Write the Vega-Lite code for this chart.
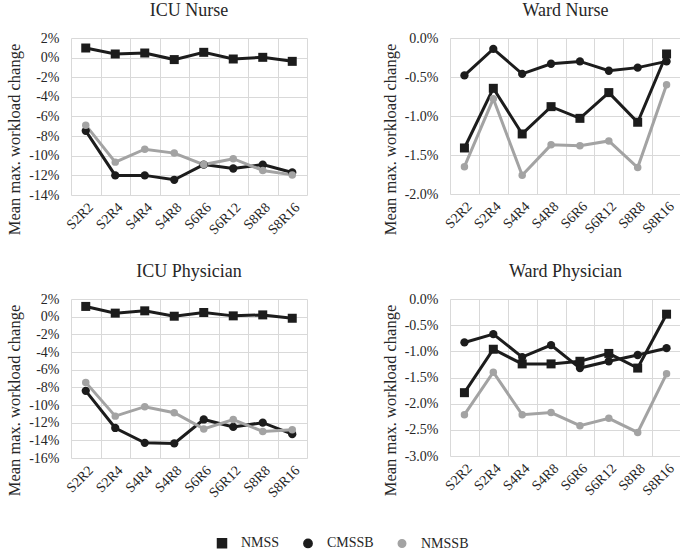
{
  "$schema": "https://vega.github.io/schema/vega-lite/v6.json",
  "padding": {"left": 6, "top": 2, "right": 2, "bottom": 2},
  "background": "white",
  "datasets": {
    "d": [
      {"panel": "ICU Nurse", "scenario": "S2R2", "series": "NMSS", "value": 0.0098},
      {"panel": "ICU Nurse", "scenario": "S2R4", "series": "NMSS", "value": 0.0037},
      {"panel": "ICU Nurse", "scenario": "S4R4", "series": "NMSS", "value": 0.0047},
      {"panel": "ICU Nurse", "scenario": "S4R8", "series": "NMSS", "value": -0.002},
      {"panel": "ICU Nurse", "scenario": "S6R6", "series": "NMSS", "value": 0.0054},
      {"panel": "ICU Nurse", "scenario": "S6R12", "series": "NMSS", "value": -0.0014},
      {"panel": "ICU Nurse", "scenario": "S8R8", "series": "NMSS", "value": 0.0003},
      {"panel": "ICU Nurse", "scenario": "S8R16", "series": "NMSS", "value": -0.0038},
      {"panel": "ICU Nurse", "scenario": "S2R2", "series": "CMSSB", "value": -0.0746},
      {"panel": "ICU Nurse", "scenario": "S2R4", "series": "CMSSB", "value": -0.12},
      {"panel": "ICU Nurse", "scenario": "S4R4", "series": "CMSSB", "value": -0.12},
      {"panel": "ICU Nurse", "scenario": "S4R8", "series": "CMSSB", "value": -0.1245},
      {"panel": "ICU Nurse", "scenario": "S6R6", "series": "CMSSB", "value": -0.109},
      {"panel": "ICU Nurse", "scenario": "S6R12", "series": "CMSSB", "value": -0.113},
      {"panel": "ICU Nurse", "scenario": "S8R8", "series": "CMSSB", "value": -0.109},
      {"panel": "ICU Nurse", "scenario": "S8R16", "series": "CMSSB", "value": -0.117},
      {"panel": "ICU Nurse", "scenario": "S2R2", "series": "NMSSB", "value": -0.0688},
      {"panel": "ICU Nurse", "scenario": "S2R4", "series": "NMSSB", "value": -0.1065},
      {"panel": "ICU Nurse", "scenario": "S4R4", "series": "NMSSB", "value": -0.0933},
      {"panel": "ICU Nurse", "scenario": "S4R8", "series": "NMSSB", "value": -0.0973},
      {"panel": "ICU Nurse", "scenario": "S6R6", "series": "NMSSB", "value": -0.109},
      {"panel": "ICU Nurse", "scenario": "S6R12", "series": "NMSSB", "value": -0.103},
      {"panel": "ICU Nurse", "scenario": "S8R8", "series": "NMSSB", "value": -0.115},
      {"panel": "ICU Nurse", "scenario": "S8R16", "series": "NMSSB", "value": -0.1195},

      {"panel": "Ward Nurse", "scenario": "S2R2", "series": "NMSS", "value": -0.0141},
      {"panel": "Ward Nurse", "scenario": "S2R4", "series": "NMSS", "value": -0.00645},
      {"panel": "Ward Nurse", "scenario": "S4R4", "series": "NMSS", "value": -0.0123},
      {"panel": "Ward Nurse", "scenario": "S4R8", "series": "NMSS", "value": -0.0088},
      {"panel": "Ward Nurse", "scenario": "S6R6", "series": "NMSS", "value": -0.0103},
      {"panel": "Ward Nurse", "scenario": "S6R12", "series": "NMSS", "value": -0.007},
      {"panel": "Ward Nurse", "scenario": "S8R8", "series": "NMSS", "value": -0.0108},
      {"panel": "Ward Nurse", "scenario": "S8R16", "series": "NMSS", "value": -0.00205},
      {"panel": "Ward Nurse", "scenario": "S2R2", "series": "CMSSB", "value": -0.0048},
      {"panel": "Ward Nurse", "scenario": "S2R4", "series": "CMSSB", "value": -0.0014},
      {"panel": "Ward Nurse", "scenario": "S4R4", "series": "CMSSB", "value": -0.0046},
      {"panel": "Ward Nurse", "scenario": "S4R8", "series": "CMSSB", "value": -0.0033},
      {"panel": "Ward Nurse", "scenario": "S6R6", "series": "CMSSB", "value": -0.003},
      {"panel": "Ward Nurse", "scenario": "S6R12", "series": "CMSSB", "value": -0.0042},
      {"panel": "Ward Nurse", "scenario": "S8R8", "series": "CMSSB", "value": -0.0038},
      {"panel": "Ward Nurse", "scenario": "S8R16", "series": "CMSSB", "value": -0.003},
      {"panel": "Ward Nurse", "scenario": "S2R2", "series": "NMSSB", "value": -0.0165},
      {"panel": "Ward Nurse", "scenario": "S2R4", "series": "NMSSB", "value": -0.0078},
      {"panel": "Ward Nurse", "scenario": "S4R4", "series": "NMSSB", "value": -0.0176},
      {"panel": "Ward Nurse", "scenario": "S4R8", "series": "NMSSB", "value": -0.0137},
      {"panel": "Ward Nurse", "scenario": "S6R6", "series": "NMSSB", "value": -0.0138},
      {"panel": "Ward Nurse", "scenario": "S6R12", "series": "NMSSB", "value": -0.0132},
      {"panel": "Ward Nurse", "scenario": "S8R8", "series": "NMSSB", "value": -0.0166},
      {"panel": "Ward Nurse", "scenario": "S8R16", "series": "NMSSB", "value": -0.006},

      {"panel": "ICU Physician", "scenario": "S2R2", "series": "NMSS", "value": 0.0116},
      {"panel": "ICU Physician", "scenario": "S2R4", "series": "NMSS", "value": 0.004},
      {"panel": "ICU Physician", "scenario": "S4R4", "series": "NMSS", "value": 0.0066},
      {"panel": "ICU Physician", "scenario": "S4R8", "series": "NMSS", "value": 0.0005},
      {"panel": "ICU Physician", "scenario": "S6R6", "series": "NMSS", "value": 0.0047},
      {"panel": "ICU Physician", "scenario": "S6R12", "series": "NMSS", "value": 0.0009},
      {"panel": "ICU Physician", "scenario": "S8R8", "series": "NMSS", "value": 0.002},
      {"panel": "ICU Physician", "scenario": "S8R16", "series": "NMSS", "value": -0.0018},
      {"panel": "ICU Physician", "scenario": "S2R2", "series": "CMSSB", "value": -0.084},
      {"panel": "ICU Physician", "scenario": "S2R4", "series": "CMSSB", "value": -0.126},
      {"panel": "ICU Physician", "scenario": "S4R4", "series": "CMSSB", "value": -0.1428},
      {"panel": "ICU Physician", "scenario": "S4R8", "series": "CMSSB", "value": -0.1435},
      {"panel": "ICU Physician", "scenario": "S6R6", "series": "CMSSB", "value": -0.1164},
      {"panel": "ICU Physician", "scenario": "S6R12", "series": "CMSSB", "value": -0.1248},
      {"panel": "ICU Physician", "scenario": "S8R8", "series": "CMSSB", "value": -0.12},
      {"panel": "ICU Physician", "scenario": "S8R16", "series": "CMSSB", "value": -0.133},
      {"panel": "ICU Physician", "scenario": "S2R2", "series": "NMSSB", "value": -0.0744},
      {"panel": "ICU Physician", "scenario": "S2R4", "series": "NMSSB", "value": -0.1126},
      {"panel": "ICU Physician", "scenario": "S4R4", "series": "NMSSB", "value": -0.1019},
      {"panel": "ICU Physician", "scenario": "S4R8", "series": "NMSSB", "value": -0.1088},
      {"panel": "ICU Physician", "scenario": "S6R6", "series": "NMSSB", "value": -0.1271},
      {"panel": "ICU Physician", "scenario": "S6R12", "series": "NMSSB", "value": -0.1164},
      {"panel": "ICU Physician", "scenario": "S8R8", "series": "NMSSB", "value": -0.13},
      {"panel": "ICU Physician", "scenario": "S8R16", "series": "NMSSB", "value": -0.128},

      {"panel": "Ward Physician", "scenario": "S2R2", "series": "NMSS", "value": -0.0179},
      {"panel": "Ward Physician", "scenario": "S2R4", "series": "NMSS", "value": -0.0096},
      {"panel": "Ward Physician", "scenario": "S4R4", "series": "NMSS", "value": -0.0124},
      {"panel": "Ward Physician", "scenario": "S4R8", "series": "NMSS", "value": -0.0124},
      {"panel": "Ward Physician", "scenario": "S6R6", "series": "NMSS", "value": -0.0119},
      {"panel": "Ward Physician", "scenario": "S6R12", "series": "NMSS", "value": -0.0104},
      {"panel": "Ward Physician", "scenario": "S8R8", "series": "NMSS", "value": -0.0132},
      {"panel": "Ward Physician", "scenario": "S8R16", "series": "NMSS", "value": -0.0029},
      {"panel": "Ward Physician", "scenario": "S2R2", "series": "CMSSB", "value": -0.0083},
      {"panel": "Ward Physician", "scenario": "S2R4", "series": "CMSSB", "value": -0.0067},
      {"panel": "Ward Physician", "scenario": "S4R4", "series": "CMSSB", "value": -0.0111},
      {"panel": "Ward Physician", "scenario": "S4R8", "series": "CMSSB", "value": -0.0088},
      {"panel": "Ward Physician", "scenario": "S6R6", "series": "CMSSB", "value": -0.0132},
      {"panel": "Ward Physician", "scenario": "S6R12", "series": "CMSSB", "value": -0.0119},
      {"panel": "Ward Physician", "scenario": "S8R8", "series": "CMSSB", "value": -0.0107},
      {"panel": "Ward Physician", "scenario": "S8R16", "series": "CMSSB", "value": -0.0094},
      {"panel": "Ward Physician", "scenario": "S2R2", "series": "NMSSB", "value": -0.0221},
      {"panel": "Ward Physician", "scenario": "S2R4", "series": "NMSSB", "value": -0.014},
      {"panel": "Ward Physician", "scenario": "S4R4", "series": "NMSSB", "value": -0.0221},
      {"panel": "Ward Physician", "scenario": "S4R8", "series": "NMSSB", "value": -0.0217},
      {"panel": "Ward Physician", "scenario": "S6R6", "series": "NMSSB", "value": -0.0242},
      {"panel": "Ward Physician", "scenario": "S6R12", "series": "NMSSB", "value": -0.0228},
      {"panel": "Ward Physician", "scenario": "S8R8", "series": "NMSSB", "value": -0.0255},
      {"panel": "Ward Physician", "scenario": "S8R16", "series": "NMSSB", "value": -0.0143}
    ]
  },
  "data": {"name": "d"},
  "columns": 2,
  "spacing": {"row": 26, "column": 75},
  "concat": [
    {
      "title": "ICU Nurse",
      "width": 236, "height": 157,
      "transform": [{"filter": "datum.panel === 'ICU Nurse'"}],
      "encoding": {
        "x": {"field": "scenario", "type": "ordinal", "sort": ["S2R2","S2R4","S4R4","S4R8","S6R6","S6R12","S8R8","S8R16"], "scale": {"type": "band", "paddingInner": 0, "paddingOuter": 0}, "axis": {"tickBand": "extent", "labelAngle": -45, "title": null}},
        "y": {"field": "value", "type": "quantitative", "scale": {"domain": [-0.14, 0.02], "nice": false, "zero": false}, "axis": {"values": [-0.14,-0.12,-0.1,-0.08,-0.06,-0.04,-0.02,0,0.02], "format": ".0%", "title": "Mean max. workload change"}},
        "color": {"field": "series", "type": "nominal", "scale": {"domain": ["NMSS","CMSSB","NMSSB"], "range": ["#1c1c1c","#1c1c1c","#a3a3a3"]},
          "legend": {"title": null, "orient": "none", "legendX": 130, "legendY": 498, "direction": "horizontal"}}
      },
      "layer": [
        {"mark": {"type": "line", "strokeWidth": 3}, "encoding": {"detail": {"field": "series"}}},
        {"mark": {"type": "point", "filled": true, "opacity": 1}, "encoding": {"shape": {"field": "series", "type": "nominal", "scale": {"domain": ["NMSS","CMSSB","NMSSB"], "range": ["square","circle","circle"]}, "legend": null}, "size": {"field": "series", "type": "nominal", "scale": {"domain": ["NMSS","CMSSB","NMSSB"], "range": [81, 56, 56]}, "legend": null}}}
      ]
    },
    {
      "title": "Ward Nurse",
      "width": 231, "height": 156,
      "transform": [{"filter": "datum.panel === 'Ward Nurse'"}],
      "encoding": {
        "x": {"field": "scenario", "type": "ordinal", "sort": ["S2R2","S2R4","S4R4","S4R8","S6R6","S6R12","S8R8","S8R16"], "scale": {"type": "band", "paddingInner": 0, "paddingOuter": 0}, "axis": {"tickBand": "extent", "labelAngle": -45, "title": null}},
        "y": {"field": "value", "type": "quantitative", "scale": {"domain": [-0.02, 0], "nice": false, "zero": false}, "axis": {"values": [-0.02,-0.015,-0.01,-0.005,0], "format": ".1%", "title": "Mean max. workload change"}},
        "color": {"field": "series", "type": "nominal", "scale": {"domain": ["NMSS","CMSSB","NMSSB"], "range": ["#1c1c1c","#1c1c1c","#a3a3a3"]}}
      },
      "layer": [
        {"mark": {"type": "line", "strokeWidth": 3}, "encoding": {"detail": {"field": "series"}}},
        {"mark": {"type": "point", "filled": true, "opacity": 1}, "encoding": {"shape": {"field": "series", "type": "nominal", "scale": {"domain": ["NMSS","CMSSB","NMSSB"], "range": ["square","circle","circle"]}, "legend": null}, "size": {"field": "series", "type": "nominal", "scale": {"domain": ["NMSS","CMSSB","NMSSB"], "range": [81, 56, 56]}, "legend": null}}}
      ]
    },
    {
      "title": "ICU Physician",
      "width": 236, "height": 159,
      "transform": [{"filter": "datum.panel === 'ICU Physician'"}],
      "encoding": {
        "x": {"field": "scenario", "type": "ordinal", "sort": ["S2R2","S2R4","S4R4","S4R8","S6R6","S6R12","S8R8","S8R16"], "scale": {"type": "band", "paddingInner": 0, "paddingOuter": 0}, "axis": {"tickBand": "extent", "labelAngle": -45, "title": null}},
        "y": {"field": "value", "type": "quantitative", "scale": {"domain": [-0.16, 0.02], "nice": false, "zero": false}, "axis": {"values": [-0.16,-0.14,-0.12,-0.1,-0.08,-0.06,-0.04,-0.02,0,0.02], "format": ".0%", "title": "Mean max. workload change"}},
        "color": {"field": "series", "type": "nominal", "scale": {"domain": ["NMSS","CMSSB","NMSSB"], "range": ["#1c1c1c","#1c1c1c","#a3a3a3"]}}
      },
      "layer": [
        {"mark": {"type": "line", "strokeWidth": 3}, "encoding": {"detail": {"field": "series"}}},
        {"mark": {"type": "point", "filled": true, "opacity": 1}, "encoding": {"shape": {"field": "series", "type": "nominal", "scale": {"domain": ["NMSS","CMSSB","NMSSB"], "range": ["square","circle","circle"]}, "legend": null}, "size": {"field": "series", "type": "nominal", "scale": {"domain": ["NMSS","CMSSB","NMSSB"], "range": [81, 56, 56]}, "legend": null}}}
      ]
    },
    {
      "title": "Ward Physician",
      "width": 231, "height": 157,
      "transform": [{"filter": "datum.panel === 'Ward Physician'"}],
      "encoding": {
        "x": {"field": "scenario", "type": "ordinal", "sort": ["S2R2","S2R4","S4R4","S4R8","S6R6","S6R12","S8R8","S8R16"], "scale": {"type": "band", "paddingInner": 0, "paddingOuter": 0}, "axis": {"tickBand": "extent", "labelAngle": -45, "title": null}},
        "y": {"field": "value", "type": "quantitative", "scale": {"domain": [-0.03, 0], "nice": false, "zero": false}, "axis": {"values": [-0.03,-0.025,-0.02,-0.015,-0.01,-0.005,0], "format": ".1%", "title": "Mean max. workload change"}},
        "color": {"field": "series", "type": "nominal", "scale": {"domain": ["NMSS","CMSSB","NMSSB"], "range": ["#1c1c1c","#1c1c1c","#a3a3a3"]}}
      },
      "layer": [
        {"mark": {"type": "line", "strokeWidth": 3}, "encoding": {"detail": {"field": "series"}}},
        {"mark": {"type": "point", "filled": true, "opacity": 1}, "encoding": {"shape": {"field": "series", "type": "nominal", "scale": {"domain": ["NMSS","CMSSB","NMSSB"], "range": ["square","circle","circle"]}, "legend": null}, "size": {"field": "series", "type": "nominal", "scale": {"domain": ["NMSS","CMSSB","NMSSB"], "range": [81, 56, 56]}, "legend": null}}}
      ]
    }
  ],
  "config": {
    "locale": {"number": {"decimal": ".", "thousands": ",", "grouping": [3], "currency": ["$", ""], "minus": "-"}},
    "font": "Liberation Serif",
    "view": {"stroke": null},
    "axis": {
      "domain": false, "ticks": false, "grid": true, "gridColor": "#d9d9d9", "gridWidth": 1,
      "labelFont": "Liberation Serif", "labelFontSize": 14, "labelColor": "#262626",
      "titleFont": "Liberation Serif", "titleFontSize": 16.5, "titleFontWeight": "normal", "titleColor": "#262626"
    },
    "axisX": {"labelPadding": 5},
    "axisY": {"labelPadding": 12, "titlePadding": 6, "titleY": 101},
    "title": {"font": "Liberation Serif", "fontSize": 18, "fontWeight": "normal", "color": "#262626", "offset": 11},
    "legend": {
      "labelFont": "Liberation Serif", "labelFontSize": 14, "labelFontWeight": "normal", "labelColor": "#262626",
      "symbolSize": 81, "symbolOffset": 14, "labelOffset": 12, "columnPadding": 7
    }
  }
}
